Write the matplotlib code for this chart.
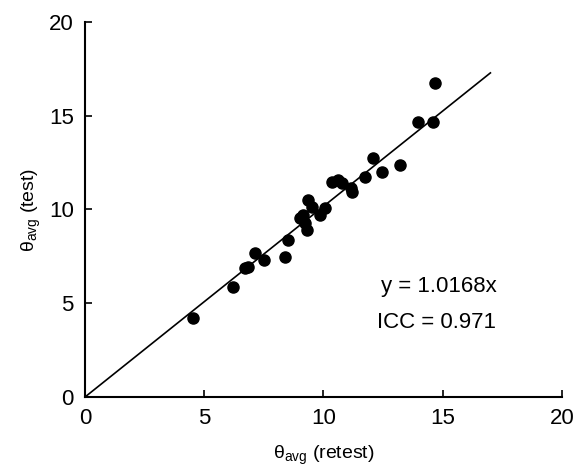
import matplotlib
matplotlib.use('Agg')
import matplotlib.pyplot as plt
import numpy as np

plt.rcParams['font.family'] = ['Liberation Sans', 'DejaVu Sans']

# 数据：重测 vs 测试
retest = [4.51, 6.22, 6.72, 6.85, 7.13, 7.52, 8.39, 8.53, 9.01, 9.15,
          9.29, 9.36, 9.50, 9.85, 10.06, 9.22, 10.34, 10.62, 10.76, 11.18,
          11.15, 11.74, 12.09, 12.44, 13.21, 13.98, 14.58, 14.68]
test = [4.20, 5.88, 6.86, 6.95, 7.66, 7.31, 7.49, 8.37, 9.53, 9.71,
        8.91, 10.51, 10.15, 9.71, 10.08, 9.26, 11.48, 11.57, 11.39, 10.95,
        11.12, 11.75, 12.73, 12.02, 12.37, 14.68, 14.68, 16.73]
slope = 1.0168
icc = 0.971
line_x = [0, 17]

fig = plt.figure(figsize=(5.76, 4.75), dpi=100)
ax = fig.add_axes([0.1476, 0.1642, 0.828, 0.7895])

ax.plot(line_x, [slope * v for v in line_x], color='black', lw=1.2)
ax.plot(retest, test, 'o', color='black', ms=8)

ax.set_xlim(0, 20)
ax.set_ylim(0, 20)
ax.set_xticks([0, 5, 10, 15, 20])
ax.set_yticks([0, 5, 10, 15, 20])
ax.tick_params(direction='in', length=5, width=1.2, labelsize=16, pad=8)
ax.spines['top'].set_visible(False)
ax.spines['right'].set_visible(False)
ax.spines['left'].set_linewidth(1.5)
ax.spines['bottom'].set_linewidth(1.5)

ax.set_xlabel(r'θ$_{\mathregular{avg}}$ (retest)', fontsize=14, labelpad=10)
ax.set_ylabel(r'θ$_{\mathregular{avg}}$ (test)', fontsize=14, labelpad=4)

ax.text(17.25, 5.9, f'y = {slope}x', ha='right', va='center', fontsize=16)
ax.text(17.25, 3.95, f'ICC = {icc}', ha='right', va='center', fontsize=16)

plt.savefig('out.png', dpi=100)
